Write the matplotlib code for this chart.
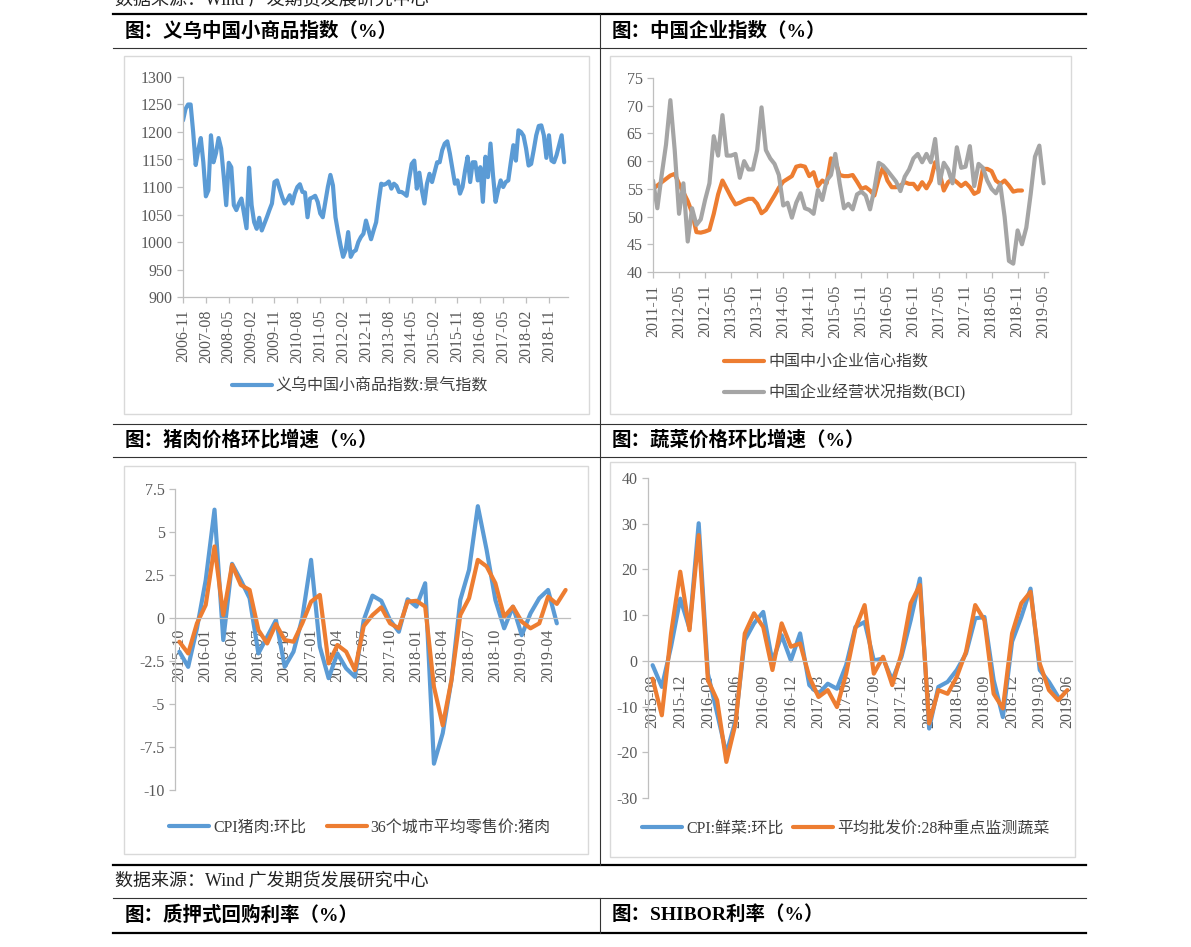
import matplotlib
matplotlib.use('Agg')
import matplotlib.pyplot as plt
from matplotlib.lines import Line2D
from matplotlib.patches import Rectangle
from matplotlib.ticker import FuncFormatter
from matplotlib.font_manager import FontProperties

plt.rcParams['axes.unicode_minus'] = False

# ── data ─────────────────────────────────────────────────────────────────────
# 义乌中国小商品指数:景气指数, monthly 2006-11 .. 2019-05
YIWU = [1221, 1242, 1250, 1250, 1200, 1140, 1167, 1189, 1145, 1083,
        1094, 1194, 1145, 1162, 1189, 1170, 1121, 1067, 1144, 1136,
        1067, 1058, 1070, 1079, 1052, 1025, 1135, 1067, 1036, 1024,
        1044, 1021, 1033, 1045, 1058, 1070, 1109, 1112, 1097, 1082,
        1070, 1076, 1085, 1070, 1088, 1100, 1105, 1091, 1090, 1045,
        1079, 1081, 1084, 1073, 1052, 1045, 1072, 1100, 1122, 1103,
        1045, 1018, 994, 973, 985, 1018, 973, 982, 985, 1000,
        1009, 1015, 1039, 1022, 1005, 1021, 1036, 1073, 1106, 1104,
        1106, 1110, 1097, 1106, 1102, 1091, 1091, 1088, 1084, 1115,
        1142, 1148, 1097, 1126, 1094, 1070, 1106, 1124, 1109, 1127,
        1145, 1145, 1167, 1179, 1183, 1161, 1133, 1106, 1112, 1088,
        1100, 1130, 1155, 1109, 1145, 1145, 1112, 1136, 1073, 1155,
        1118, 1179, 1121, 1073, 1094, 1112, 1100, 1109, 1112, 1145,
        1176, 1148, 1203, 1200, 1193, 1170, 1139, 1142, 1167, 1194,
        1211, 1212, 1194, 1153, 1194, 1148, 1145, 1158, 1176, 1194,
        1145]
YIWU_TICKS = ['2006-11', '2007-08', '2008-05', '2009-02', '2009-11', '2010-08',
              '2011-05', '2012-02', '2012-11', '2013-08', '2014-05', '2015-02',
              '2015-11', '2016-08', '2017-05', '2018-02', '2018-11']

# 中国中小企业信心指数 / 中国企业经营状况指数(BCI), monthly from 2011-11
SME = [55, 55.6, 56.2, 56.8, 57.4, 57.7, 55.9, 54.4, 52.8, 50.7,
       47.2, 47.1, 47.3, 47.6, 50.5, 54, 56.5, 55, 53.5, 52.2,
       52.5, 52.9, 53.2, 53.2, 52.3, 50.6, 51.2, 52.5, 53.8, 55.2,
       56.3, 56.8, 57.3, 59, 59.2, 59, 57.3, 58, 55.5, 56.5,
       56, 60.5, 60, 57.5, 57.3, 57.3, 57.5, 56.3, 55, 55.3,
       54.7, 53.8, 56.8, 58.9, 56.5, 55.3, 55.3, 55.6, 56.2, 55.9,
       55.9, 54.9, 56.2, 55.1, 56.5, 59.8, 58, 54.7, 56.2, 56.8,
       56.2, 55.5, 56.1, 55.3, 54.1, 54.5, 58.6, 58.6, 58.2, 56.5,
       55.9, 56.5, 55.6, 54.5, 54.7, 54.7]
BCI = [56.5, 51.5, 57.5, 63, 71, 62, 50.5, 56, 45.5, 51.5,
       48.5, 49.5, 53, 56, 64.5, 61, 68.3, 61, 61, 61.3,
       57, 60, 58.5, 58.5, 62, 69.7, 62, 60.5, 59.5, 57.5,
       52, 52.5, 49.8, 52.5, 54.2, 51.5, 51.2, 50.5, 54.8, 53,
       56.5, 57.5, 61.3, 56, 51.5, 52.3, 51.3, 54, 54.5, 53.8,
       51.3, 55, 59.7, 59.2, 58.3, 57.3, 56.3, 54.6, 57.2, 58.5,
       60.5, 61.3, 59.8, 61.3, 59.8, 64, 56, 59.7, 58.5, 56,
       62.5, 58.8, 59, 62.7, 55.5, 59.5, 58.8, 56.5, 55, 54.2,
       55.8, 50, 42, 41.5, 47.5, 45, 48, 54, 60.8, 62.8,
       56]
ENT_TICKS = ['2011-11', '2012-05', '2012-11', '2013-05', '2013-11', '2014-05',
             '2014-11', '2015-05', '2015-11', '2016-05', '2016-11', '2017-05',
             '2017-11', '2018-05', '2018-11', '2019-05']

# 猪肉价格环比, monthly from 2015-10
CPI_PORK = [-1.96, -2.84, -0.6, 2.2, 6.3, -1.28, 3.15, 2.2, 1.15, -2.06,
            -1.09, -0.12, -2.84, -1.96, 0, 3.38, -1.67, -3.5, -2.06, -2.93,
            -3.42, -0.12, 1.3, 1.0, -0.12, -0.8, 1.09, 0.66, 2.02, -8.47,
            -6.7, -3.6, 1.05, 2.8, 6.5, 3.96, 1.05, -0.6, 0.66, -1.0,
            0.27, 1.15, 1.63, -0.31]
PORK_36 = [-1.38, -2.06, -0.31, 0.76, 4.16, 0.17, 3.09, 1.92, 1.63, -0.7,
           -1.48, -0.35, -1.28, -1.38, -0.31, 0.95, 1.34, -2.64, -1.57, -1.96,
           -3.03, -0.47, 0.17, 0.62, -0.31, -0.6, 0.95, 1.0, 0.66, -4.0,
           -6.24, -3.6, 0.17, 1.15, 3.38, 3.0, 2.02, 0.08, 0.66, -0.21,
           -0.6, -0.31, 1.24, 0.82, 1.63]
PORK_TICKS = ['2015-10', '2016-01', '2016-04', '2016-07', '2016-10', '2017-01',
              '2017-04', '2017-07', '2017-10', '2018-01', '2018-04', '2018-07',
              '2018-10', '2019-01', '2019-04']

# 蔬菜价格环比, monthly from 2015-09
CPI_VEG = [-0.95, -5.7, 3.1, 13.6, 7.1, 30.1, -2.8, -11.5, -20.3, -13,
           4.5, 8.2, 10.7, -0.2, 5.6, 0.1, 6.0, -5.3, -7.2, -5.0,
           -6.1, -0.9, 7.4, 8.5, 0.1, 0.5, -4.2, 0.9, 8.9, 18.0,
           -14.8, -5.7, -4.6, -2.0, 1.6, 9.3, 9.6, -4.2, -12.3, 4.2,
           9.6, 15.8, -2.0, -4.6, -7.9]
VEG_28 = [-3.9, -11.9, 6.0, 19.5, 6.7, 27.5, -4.2, -8.6, -22.1, -13.7,
          6.0, 10.4, 7.4, -2.0, 8.2, 3.1, 3.8, -3.5, -7.9, -6.4,
          -10.1, -2.8, 7.1, 12.2, -2.8, 0.9, -5.3, 1.6, 12.6, 16.6,
          -13.7, -6.4, -7.2, -3.5, 2.0, 12.2, 8.9, -7.2, -10.4, 6.0,
          12.6, 15.1, -0.6, -6.4, -8.6, -6.4]
VEG_TICKS = ['2015-09', '2015-12', '2016-03', '2016-06', '2016-09', '2016-12',
             '2017-03', '2017-06', '2017-09', '2017-12', '2018-03', '2018-06',
             '2018-09', '2018-12', '2019-03', '2019-06']

BLUE, ORANGE, GRAY = '#5B9BD5', '#ED7D31', '#A5A5A5'

# ── page helpers (pixel coordinates, origin top-left) ────────────────────────
W, H = 1191, 947
fig = plt.figure(figsize=(W / 100, H / 100), dpi=100)

MIXED = ['Liberation Serif', 'Noto Sans CJK SC']
LEG_FP = FontProperties(family=MIXED, size=11.5)
HEAD_FP = FontProperties(family=MIXED, weight='bold', size=14)
SRC_FP = FontProperties(family=MIXED, size=13)


def fx(x):
    return x / W


def fy(y):
    return 1 - y / H


def hline(y, x0=113, x1=1086, lw=0.8, color='#333333'):
    fig.add_artist(Line2D([fx(x0), fx(x1)], [fy(y), fy(y)],
                          transform=fig.transFigure, color=color, lw=lw))


def vline(x, y0, y1, lw=0.8, color='#333333'):
    fig.add_artist(Line2D([fx(x), fx(x)], [fy(y0), fy(y1)],
                          transform=fig.transFigure, color=color, lw=lw))


def box(x0, y0, x1, y1):
    fig.add_artist(Rectangle((fx(x0), fy(y1)), (x1 - x0) / W, (y1 - y0) / H,
                             transform=fig.transFigure, fill=False,
                             edgecolor='#d9d9d9', lw=1))


def make_ax(x0, y0, x1, y1):
    ax = fig.add_axes([fx(x0), fy(y1), (x1 - x0) / W, (y1 - y0) / H])
    ax.patch.set_alpha(0)
    for s in ['top', 'right']:
        ax.spines[s].set_visible(False)
    for s in ['left', 'bottom']:
        ax.spines[s].set_color('#bfbfbf')
        ax.spines[s].set_linewidth(0.9)
    ax.tick_params(colors='#bfbfbf', labelcolor='#595959', length=4, width=0.9,
                   labelsize=11.5, labelfontfamily='Liberation Serif')
    return ax


def add_legend(ax, cx, cy, ncol=1, loc='center', colsp=1.3, **kw):
    ax.legend(loc=loc, bbox_to_anchor=(fx(cx), fy(cy)),
              bbox_transform=fig.transFigure, frameon=False, prop=LEG_FP,
              ncol=ncol, handlelength=2.5, handletextpad=0.25,
              columnspacing=colsp, labelcolor='#404040', **kw)


LINE_KW = dict(lw=3, solid_joinstyle='round', solid_capstyle='round')
fmt = FuncFormatter(lambda v, p: f'{v:g}')

# ── table frame ──────────────────────────────────────────────────────────────
fig.text(fx(115), fy(1), '数据来源：Wind 广发期货发展研究中心', va='center',
         fontproperties=SRC_FP, color='#222222')
hline(14, lw=1.6, color='black')
hline(48)
hline(424)
hline(457)
hline(865, lw=1.6, color='black')
hline(898)
hline(933, lw=1.6, color='black')
vline(600, 14, 865)
vline(600, 898, 933)

for x, y, t in [(125, 31, '图：义乌中国小商品指数（%）'),
                (612, 31, '图：中国企业指数（%）'),
                (125, 440, '图：猪肉价格环比增速（%）'),
                (612, 440, '图：蔬菜价格环比增速（%）'),
                (125, 915, '图：质押式回购利率（%）'),
                (612, 915, '图：SHIBOR利率（%）')]:
    fig.text(fx(x), fy(y), t, va='center', fontproperties=HEAD_FP, color='black')

fig.text(fx(115), fy(882), '数据来源：Wind 广发期货发展研究中心', va='center',
         fontproperties=SRC_FP, color='#222222')

box(124, 56, 589, 414)
box(610, 56, 1071, 414)
box(124, 466, 588, 854)
box(610, 462, 1075, 857)

# ── chart 1: Yiwu index ──────────────────────────────────────────────────────
ax1 = make_ax(183, 77, 568, 297)
ax1.plot(range(len(YIWU)), YIWU, color=BLUE, label='义乌中国小商品指数:景气指数', **LINE_KW)
ax1.set_ylim(900, 1300)
ax1.set_yticks(range(900, 1301, 50))
ax1.set_xlim(0, 151.5)
ax1.set_xticks(range(0, 9 * len(YIWU_TICKS), 9))
ax1.set_xticklabels(YIWU_TICKS, rotation=90)
ax1.tick_params(axis='x', pad=5)
add_legend(ax1, 360, 387)

# ── chart 2: enterprise indices ──────────────────────────────────────────────
ax2 = make_ax(653, 78, 1048, 272)
ax2.plot(range(len(SME)), SME, color=ORANGE, label='中国中小企业信心指数', **LINE_KW)
ax2.plot(range(len(BCI)), BCI, color=GRAY, label='中国企业经营状况指数(BCI)', **LINE_KW)
ax2.set_ylim(40, 75)
ax2.set_yticks(range(40, 76, 5))
ax2.set_xlim(0, 91)
ax2.set_xticks(range(0, 6 * len(ENT_TICKS), 6))
ax2.set_xticklabels(ENT_TICKS, rotation=90)
ax2.tick_params(axis='x', pad=5)
add_legend(ax2, 710, 378, loc='center left', labelspacing=0.8)

# ── chart 3: pork ────────────────────────────────────────────────────────────
ax3 = make_ax(175, 489, 570, 790)
ax3.plot(range(len(CPI_PORK)), CPI_PORK, color=BLUE, label='CPI猪肉:环比', **LINE_KW)
ax3.plot(range(len(PORK_36)), PORK_36, color=ORANGE, label='36个城市平均零售价:猪肉', **LINE_KW)
ax3.set_ylim(-10, 7.5)
ax3.set_yticks([-10, -7.5, -5, -2.5, 0, 2.5, 5, 7.5])
ax3.yaxis.set_major_formatter(fmt)
ax3.set_xlim(-0.5, 44.5)
ax3.spines['bottom'].set_position(('data', 0))
ax3.set_xticks(range(0, 3 * len(PORK_TICKS), 3))
ax3.set_xticklabels(PORK_TICKS, rotation=90)
ax3.tick_params(axis='x', length=0, pad=8)
add_legend(ax3, 360, 828, ncol=2)

# ── chart 4: vegetables ──────────────────────────────────────────────────────
ax4 = make_ax(648, 478, 1072, 798)
ax4.plot(range(len(CPI_VEG)), CPI_VEG, color=BLUE, label='CPI:鲜菜:环比', **LINE_KW)
ax4.plot(range(len(VEG_28)), VEG_28, color=ORANGE, label='平均批发价:28种重点监测蔬菜', **LINE_KW)
ax4.set_ylim(-30, 40)
ax4.set_yticks(range(-30, 41, 10))
ax4.set_xlim(-0.5, 45.5)
ax4.spines['bottom'].set_position(('data', 0))
ax4.set_xticks(range(0, 3 * len(VEG_TICKS), 3))
ax4.set_xticklabels(VEG_TICKS, rotation=90)
ax4.tick_params(axis='x', length=0, pad=10)
add_legend(ax4, 846, 829, ncol=2, colsp=0.6)

fig.savefig('out.png', dpi=100, facecolor='white')
